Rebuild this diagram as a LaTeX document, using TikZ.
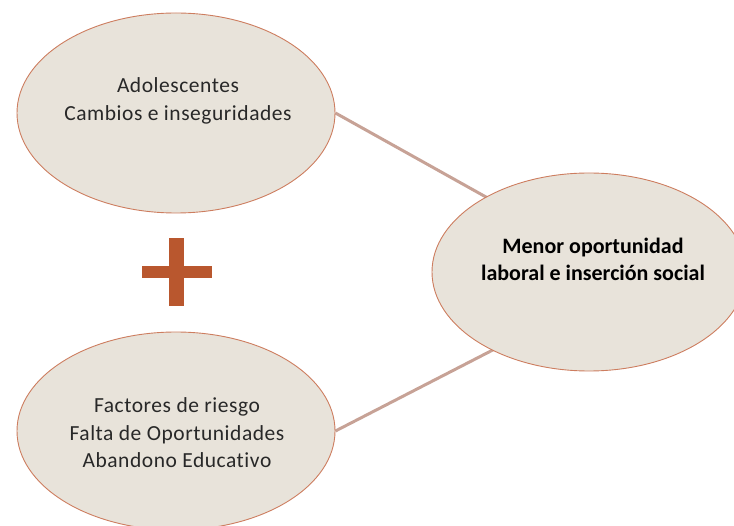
\documentclass[tikz,border=0pt]{standalone}
\usepackage{fontspec}
\setmainfont{Carlito}[RawFeature=-liga]
\newfontfamily\spacedfont{Carlito}[RawFeature=-liga, LetterSpace=2.5]
\usetikzlibrary{shapes.geometric,backgrounds}
\definecolor{bubblefill}{RGB}{232,227,218}
\definecolor{bubbleline}{RGB}{205,125,95}
\definecolor{linkcol}{RGB}{199,162,150}
\definecolor{pluscol}{RGB}{185,87,46}
\definecolor{txtcol}{RGB}{40,40,40}
\tikzset{
  bubble/.style={ellipse, draw=bubbleline, line width=0.9pt, fill=bubblefill, inner sep=0pt},
  txt/.style={align=center, text=txtcol, font=\spacedfont\fontsize{21.5}{27.5}\selectfont},
  boldtxt/.style={align=center, text=black, font=\fontsize{22}{27}\selectfont\bfseries},
  link/.style={draw=linkcol, line width=3pt},
  plusbar/.style={fill=pluscol}
}
\begin{document}
\begin{tikzpicture}[x=1pt,y=-1pt]
\clip (0,0) rectangle (734,526);
% ellipses
\node[bubble, minimum width=318pt, minimum height=200pt] (top) at (176,113) {};
\node[bubble, minimum width=318pt, minimum height=198pt] (bot) at (176,431) {};
\node[bubble, minimum width=314pt, minimum height=198pt] (right) at (589,272) {};
% texts
\node[txt] (toptext) at (178,101) {Adolescentes\\Cambios e inseguridades};
\node[txt] (bottext) at (177,433) {Factores de riesgo\\Falta de Oportunidades\\Abandono Educativo};
\node[boldtxt] (righttext) at (593,259.5) {Menor oportunidad\\laboral e inserción social};
% connectors
\coordinate (rtop) at (520,216);
\coordinate (rbot) at (520,336);
\begin{scope}[on background layer]
\draw[link] (top.east) -- (rtop);
\draw[link] (bot.east) -- (rbot);
\end{scope}
% plus sign
\fill[plusbar] (142,266) rectangle (212,278);
\fill[plusbar] (169,238) rectangle (184,306);
\end{tikzpicture}
\end{document}
